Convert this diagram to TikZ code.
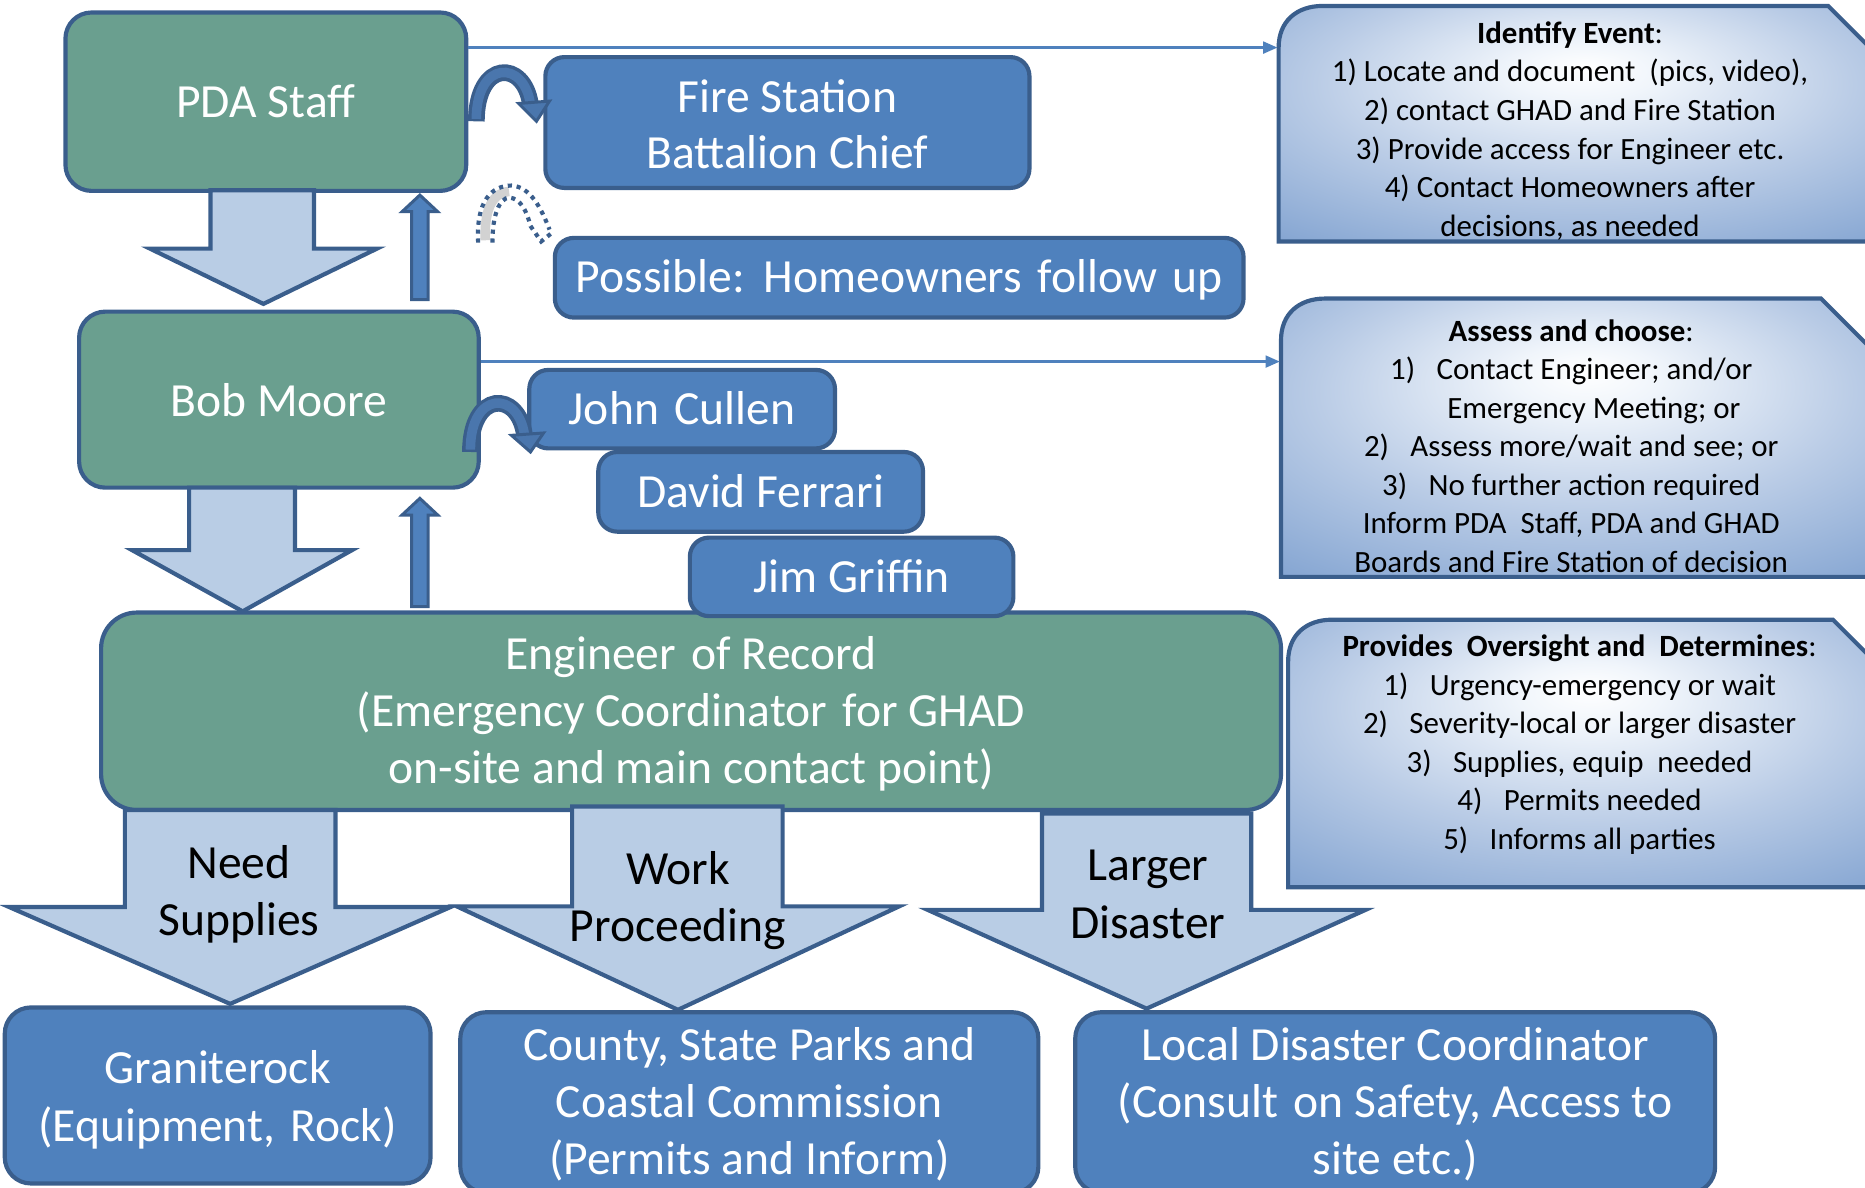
\documentclass[tikz,border=0pt]{standalone}
\usepackage{fontspec}
\setmainfont{Carlito}
\usetikzlibrary{arrows.meta}
\definecolor{bord}{RGB}{58,94,140}
\definecolor{gfill}{RGB}{106,159,143}
\definecolor{bfill}{RGB}{79,129,189}
\definecolor{lfill}{RGB}{185,205,229}
\definecolor{cfill}{RGB}{74,118,173}
\definecolor{shA}{RGB}{240,245,251}
\definecolor{shB}{RGB}{186,204,230}
\definecolor{shC}{RGB}{112,150,202}
\definecolor{shD}{RGB}{76,121,182}
\pgfdeclareradialshading{callshade}{\pgfpoint{0bp}{12bp}}{color(0bp)=(white);color(6bp)=(shA);color(22bp)=(shB);color(46bp)=(shC);color(72bp)=(shD)}
\newcommand\fbig{\fontsize{40}{48}\selectfont}
\newcommand\fsmall{\fontsize{26}{32.4}\selectfont}
\newcommand\toprl{\rule{0pt}{40pt}}
\newcommand\botrl{\rule[-14.4pt]{0pt}{0pt}}
\newcommand\gp{\hspace{4pt}}
\begin{document}
\begin{tikzpicture}[x=1pt,y=-1pt,
  box/.style={draw=bord, line width=3.5pt, rounded corners=22pt, inner sep=0pt, align=center, text=white, font=\fbig},
  gbox/.style={box, fill=gfill},
  bbox/.style={box, fill=bfill, rounded corners=16pt},
  blk/.style={draw=bord, line width=3.5pt, fill=lfill, line join=miter},
  upblk/.style={draw=bord, line width=2.5pt, fill=bfill, line join=miter},
  conn/.style={draw=bfill, line width=2pt, -{Triangle[length=12pt,width=10pt]}},
  lbl/.style={align=center, font=\fbig, text=black, inner sep=0pt},
  ctext/.style={align=center, font=\fsmall, text=black, inner sep=0pt},
  callout/.style={draw=bord, line width=3.5pt, shading=callshade},
  dots/.style={draw=bord, line width=3.5pt, dash pattern=on 3.5pt off 4pt}
]
\clip (0,0) rectangle (1568,998);

% callout shapes
\shadedraw[callout] (1075,203) -- (1075,40) .. controls (1075,18) and (1090,5) .. (1112,5) -- (1537,5) -- (1590,58) -- (1590,203) -- cycle;
\shadedraw[callout] (1077,485) -- (1077,286) .. controls (1077,264) and (1092,251) .. (1114,251) -- (1531,251) -- (1590,310) -- (1590,485) -- cycle;
\shadedraw[callout] (1083,746) -- (1083,556) .. controls (1083,534) and (1098,521) .. (1120,521) -- (1541,521) -- (1590,570) -- (1590,746) -- cycle;

\node[ctext] (ident) at (1320,110) {\textbf{Identify Event}:\\
1) Locate and document \ (pics, video),\\
2) contact GHAD and Fire Station\\
3) Provide access for Engineer etc.\\
4) Contact Homeowners after\\
decisions, as needed};
\node[ctext] (assess) at (1321,375) {\textbf{Assess and choose}:\\
1)\hspace{18pt}Contact Engineer; and/or\\
\hspace*{38pt}Emergency Meeting; or\\
2)\hspace{18pt}Assess more/wait and see; or\\
3)\hspace{18pt}No further action required\\
Inform PDA \ Staff, PDA and GHAD\\
Boards and Fire Station of decision};
\node[ctext] (prov) at (1328,626) {\textbf{Provides \ Oversight and \ Determines}:\\
1)\hspace{18pt}Urgency-emergency or wait\\
2)\hspace{18pt}Severity-local or larger disaster\\
3)\hspace{18pt}Supplies, equip \ needed\\
4)\hspace{18pt}Permits needed\\
5)\hspace{18pt}Informs all parties};

\coordinate (identL) at (1074,40);
\coordinate (assessL) at (1076,304);

% main boxes
\node[gbox, minimum width=337pt, minimum height=150pt] (pda) at (223.5,85.5) {PDA Staff};
\node[bbox, minimum width=407pt, minimum height=110pt] (fire) at (662,103) {\rule{0pt}{45pt}Fire Station\\[-1pt]Battalion Chief\botrl};
\node[bbox, minimum width=579pt, minimum height=67pt] (poss) at (756,233.5) {\toprl Possible:\gp{} Homeowners\gp{} follow\gp{} up\botrl};
\node[gbox, minimum width=336pt, minimum height=148pt] (bob) at (234.5,336) {Bob Moore};
\node[gbox, minimum width=992pt, minimum height=166pt, rounded corners=30pt] (eng) at (581,598) {\toprl Engineer\gp{} of Record\\(Emergency Coordinator\gp{} for GHAD\\on-site and main contact point)\botrl};
\node[bbox, minimum width=257pt, minimum height=66pt] (john) at (573.5,344) {\toprl John\gp{} Cullen\botrl};
\node[bbox, minimum width=273pt, minimum height=67pt] (david) at (639.5,413.5) {\toprl David Ferrari\botrl};
\node[bbox, minimum width=272pt, minimum height=66pt] (jim) at (716,485) {\toprl Jim Griffin\botrl};
\node[bbox, minimum width=358pt, minimum height=148pt, rounded corners=22pt] (gran) at (183,921) {\rule{0pt}{43pt}Graniterock\\(Equipment,\gp{} Rock)\botrl};
\node[bbox, minimum width=486pt, minimum height=152pt, rounded corners=22pt] (county) at (630,927) {\toprl County, State Parks and\\Coastal Commission\\(Permits and Inform)\botrl};
\node[bbox, minimum width=538pt, minimum height=152pt, rounded corners=22pt] (local) at (1173,927) {\toprl Local Disaster Coordinator\\(Consult\gp{} on Safety, Access to\\site etc.)\botrl};

% connector lines
\draw[conn] (pda.east |- identL) -- (identL);
\draw[conn] (bob.east |- assessL) -- (assessL);

% big block arrows down
\draw[blk] (177,160) -- (264,160) -- (264,209) -- (317,209) -- (221.5,255.5) -- (126,209) -- (177,209) -- cycle;
\draw[blk] (159,410) -- (248,410) -- (248,462.5) -- (296,462.5) -- (204,514) -- (111,462.5) -- (159,462.5) -- cycle;
\draw[blk] (105,681) -- (282,681) -- (282,762.5) -- (379,762.5) -- (193.5,844) -- (7.5,762.5) -- (105,762.5) -- cycle;
\draw[blk] (481,678) -- (658,678) -- (658,762) -- (756,762) -- (570,849) -- (384,762) -- (481,762) -- cycle;
\draw[blk] (876,684) -- (1052,684) -- (1052,765) -- (1148,765) -- (964,848) -- (780,765) -- (876,765) -- cycle;
\node[lbl] (need) at (201,752) {Need\\Supplies};
\node[lbl] (work) at (570,757) {Work\\Proceeding};
\node[lbl] (larger) at (965,752) {Larger\\Disaster};

% thin up arrows
\draw[upblk] (346,252) -- (346,178) -- (338,178) -- (353,164) -- (368,178) -- (360,178) -- (360,252) -- cycle;
\draw[upblk] (346,510) -- (346,433) -- (338,433) -- (353,419) -- (368,433) -- (360,433) -- (360,510) -- cycle;

% curved arrows
\draw[bord, line width=14pt] (400.5,102) .. controls (400.5,50) and (441,50) .. (446,88);
\draw[cfill, line width=8pt] (400.5,100) .. controls (400.5,50) and (441,50) .. (446,88);
\draw[upblk, fill=cfill, line width=2.5pt] (436,87) -- (462,85) -- (451,102) -- cycle;
\draw[bord, line width=14pt] (395.5,380) .. controls (395.5,328) and (436,328) .. (441,366);
\draw[cfill, line width=8pt] (395.5,378) .. controls (395.5,328) and (436,328) .. (441,366);
\draw[upblk, fill=cfill, line width=2.5pt] (430,366) -- (457,364) -- (446,380) -- cycle;

% dotted curved arrow
\draw[gray!35, line width=8pt] (408,202) .. controls (407,174) and (415,162) .. (428,161);
\draw[dots] (402,204) .. controls (400,168) and (414,156) .. (430,156) .. controls (446,157) and (455,175) .. (462,193);
\draw[dots] (414,204) .. controls (414,180) and (420,167) .. (428,166) .. controls (438,167) and (443,178) .. (446,190);
\draw[dots] (446,190) -- (455,203) -- (465,195);
\end{tikzpicture}
\end{document}
